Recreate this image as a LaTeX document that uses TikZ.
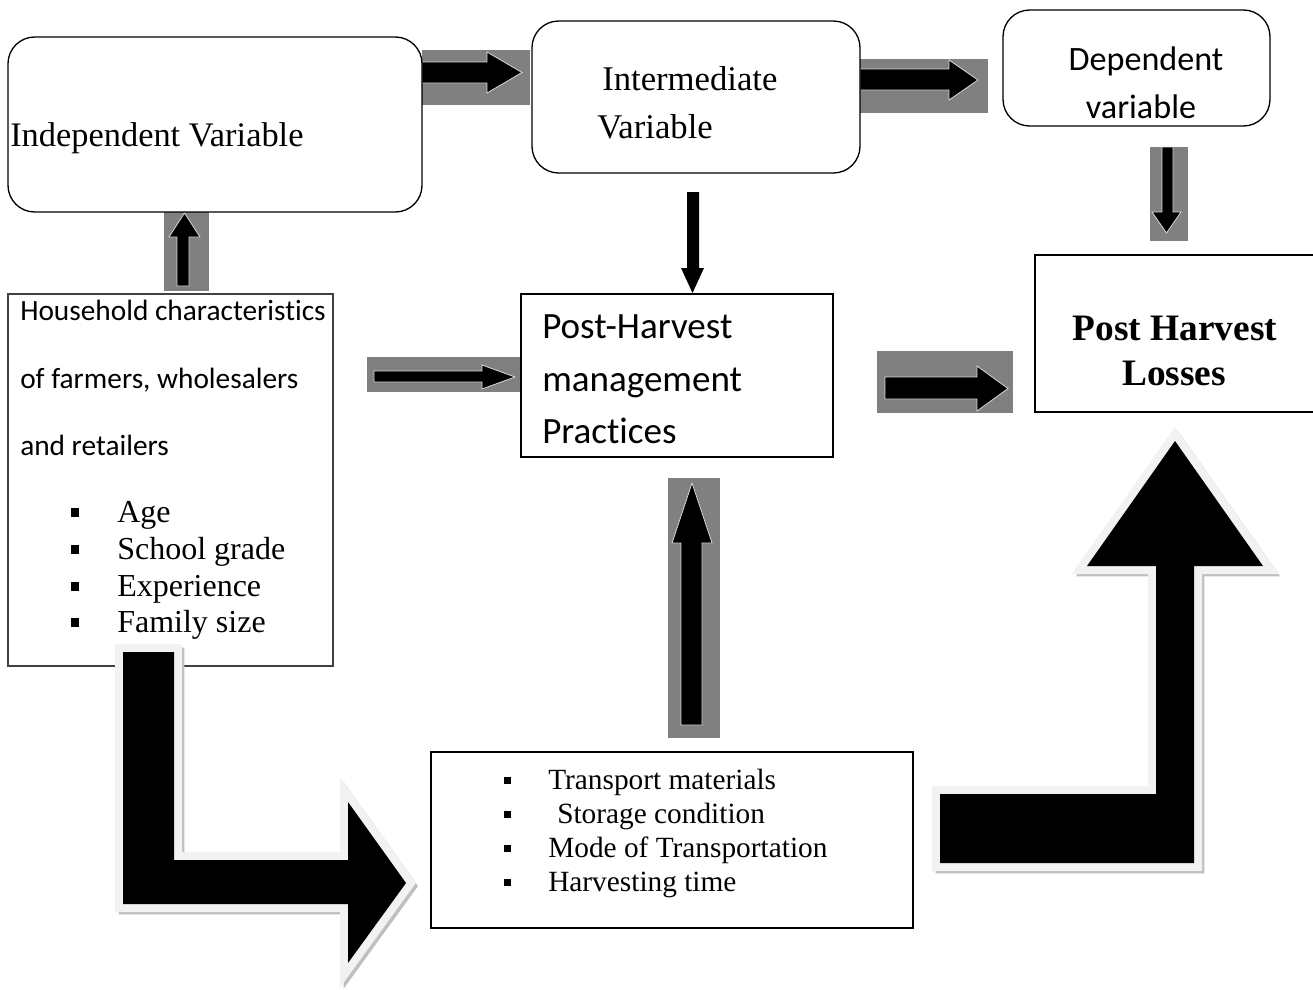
\documentclass[tikz,border=0pt]{standalone}
\usepackage{fontspec}
\setmainfont{Liberation Serif}
\newfontfamily\calfont[Ligatures=NoCommon]{Carlito}
\newcommand{\bigLdown}{(123,652) -- (174,652) -- (174,860) -- (348,860) -- (348,802) -- (406,883) -- (348,963) -- (348,904) -- (123,904) -- cycle}
\newcommand{\bigLup}{(940,794) -- (1156,794) -- (1156,566) -- (1087,566) -- (1175,441) -- (1263,566) -- (1194,566) -- (1194,863) -- (940,863) -- cycle}
\tikzset{
  txt/.style={inner sep=0pt, anchor=base west},
  ctxt/.style={inner sep=0pt, anchor=base},
  rbox/.style={draw=black, line width=1pt, rounded corners=20pt},
  sqbox/.style={draw=black, line width=1pt},
  graybg/.style={fill=gray, draw=none},
  blockarrow/.style={fill=black, draw=white!85!black, line width=0.6pt, line join=miter},
  bigshadow/.style={fill=black!25, draw=black!25, line width=11pt, line join=miter},
  bigrim/.style={fill=black!5, draw=black!5, line width=12pt, line join=miter},
}

\begin{document}
\begin{tikzpicture}[x=0.75pt,y=-0.75pt]
\useasboundingbox (0,0) rectangle (1313,989);
% gray backgrounds of the small arrows
\fill[graybg] (422,50) rectangle (530,105);
\fill[graybg] (860,59) rectangle (988,113);
\fill[graybg] (1150,147) rectangle (1188,241);
\fill[graybg] (164,212) rectangle (209,291);
\fill[graybg] (367,357) rectangle (520,392);
\fill[graybg] (668,478) rectangle (720,738);
\fill[graybg] (877,351) rectangle (1013,413);
% small block arrows
\filldraw[blockarrow] (422,62) -- (487,62) -- (487,52) -- (522,72.5) -- (487,93) -- (487,83) -- (422,83) -- cycle;
\filldraw[blockarrow] (860,69) -- (949,69) -- (949,60) -- (978,80) -- (949,100) -- (949,90) -- (860,90) -- cycle;
\filldraw[blockarrow] (1162,147) -- (1173,147) -- (1173,212) -- (1181,212) -- (1166.5,233) -- (1152,212) -- (1162,212) -- cycle;
\filldraw[blockarrow] (177,286) -- (177,237) -- (169,237) -- (184.5,213) -- (200,237) -- (189,237) -- (189,286) -- cycle;
\filldraw[blockarrow] (374,371) -- (482,371) -- (482,365) -- (515,377) -- (482,389) -- (482,382) -- (374,382) -- cycle;
\fill (687,192) -- (699,192) -- (699,268) -- (704,268) -- (692.5,293) -- (681,268) -- (687,268) -- cycle;
\filldraw[blockarrow] (681,725) -- (681,543) -- (672,543) -- (692,483) -- (712,543) -- (702,543) -- (702,725) -- cycle;
\filldraw[blockarrow] (885,377) -- (977,377) -- (977,366) -- (1008,388.5) -- (977,411) -- (977,399) -- (885,399) -- cycle;

\draw[rbox] (8,37) rectangle (422,212);
\node[txt, font=\fontsize{25.8}{30}\selectfont] (indep) at (10,146) {Independent Variable};

\draw[rbox] (532,21) rectangle (860,173);
\node[txt, font=\fontsize{26}{30}\selectfont] (inter1) at (602,90) {Intermediate};
\node[txt, font=\fontsize{26}{30}\selectfont] (inter2) at (597,138) {Variable};

\draw[rbox] (1003,10) rectangle (1270,126);
\node[ctxt, font=\calfont\fontsize{25.6}{30}\selectfont] (dep1) at (1146,70) {Dependent};
\node[ctxt, font=\calfont\fontsize{25.6}{30}\selectfont] (dep2) at (1141,118) {variable};

\draw[draw=black!75, line width=0.8pt] (8,294) rectangle (333,666);
\node[txt, font=\calfont\fontsize{22}{26}\selectfont] (hh1) at (20,320) {Household characteristics};
\node[txt, font=\calfont\fontsize{22}{26}\selectfont] (hh2) at (20,388) {of farmers, wholesalers};
\node[txt, font=\calfont\fontsize{22}{26}\selectfont] (hh3) at (20,455) {and retailers};
\foreach \y/\t [count=\i] in {522/Age, 559/School grade, 596/Experience, 632/Family size} {
\fill (71,\y-14) rectangle (79,\y-5);
\node[txt, font=\fontsize{24}{28}\selectfont] (hhitem\i) at (117,\y) {\t};
}

\draw[sqbox] (521,294) rectangle (833,457);
\node[txt, font=\calfont\fontsize{27.8}{32}\selectfont] (ph1) at (542,338) {Post-Harvest};
\node[txt, font=\calfont\fontsize{27.8}{32}\selectfont] (ph2) at (542,391.5) {management};
\node[txt, font=\calfont\fontsize{27.8}{32}\selectfont] (ph3) at (542,443) {Practices};

\draw[sqbox, line width=0.8pt] (1313,255) -- (1035,255) -- (1035,412) -- (1313,412);
\node[ctxt, font=\bfseries\fontsize{28}{32}\selectfont] (phl1) at (1175,340) {Post Harvest};
\node[ctxt, font=\bfseries\fontsize{28}{32}\selectfont] (phl2) at (1174,385) {Losses};

\draw[sqbox, line width=1.1pt] (431,752) rectangle (913,928);
\foreach \y/\x/\t [count=\i] in {789/548/Transport materials, 823/557/Storage condition, 857/548/Mode of Transportation, 891/548/Harvesting time} {
\fill (503.5,\y-12) rectangle (510.5,\y-5);
\node[txt, font=\fontsize{22}{26}\selectfont] (bitem\i) at (\x,\y) {\t};
}

% big bent arrows
\path[bigshadow, shift={(3,3)}] \bigLdown;
\path[bigrim] \bigLdown;
\fill \bigLdown;
\path[bigshadow, shift={(3,3)}] \bigLup;
\path[bigrim] \bigLup;
\fill \bigLup;
\end{tikzpicture}
\end{document}
